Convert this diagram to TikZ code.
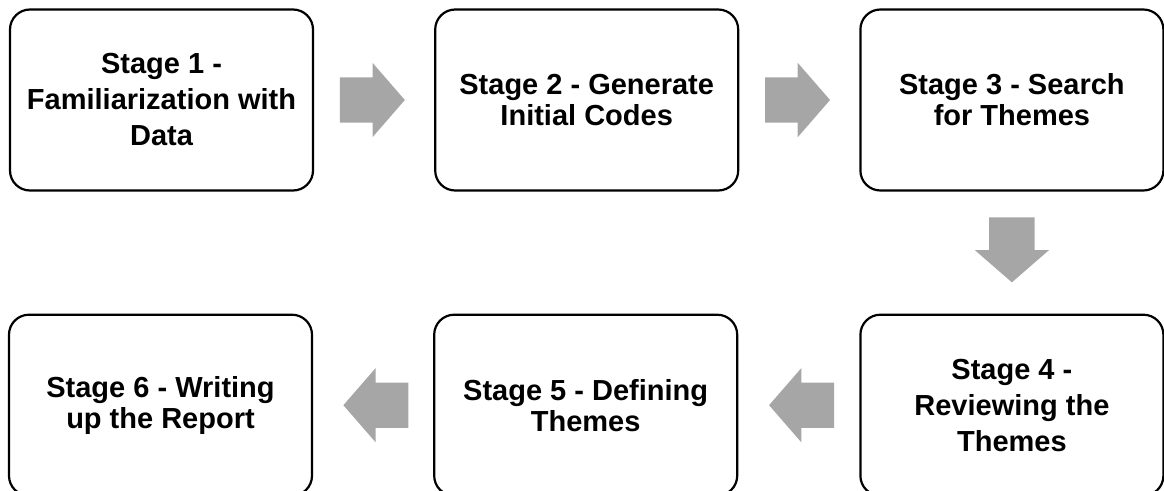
\documentclass[tikz,border=0pt]{standalone}
\usepackage{fontspec}
\setmainfont{Liberation Sans}
\usetikzlibrary{shapes.arrows,positioning,calc}

\definecolor{arrowgray}{RGB}{166,166,166}

\tikzset{
  stagebox/.style={draw, line width=2.2pt, rounded corners=20pt,
    minimum width=303pt, minimum height=181pt, inner sep=0pt,
    align=center, font=\fontsize{29}{31}\selectfont\bfseries},
  tallbox/.style={stagebox, font=\fontsize{29}{36}\selectfont\bfseries},
  fatarrow/.style={single arrow, fill=arrowgray, draw=none, anchor=tip,
    minimum height=65pt, inner xsep=0pt, inner ysep=22.5pt,
    single arrow head extend=14.5pt, single arrow tip angle=98}
}

\begin{document}
\begin{tikzpicture}[x=1pt,y=-1pt]

\useasboundingbox (0,0) rectangle (1164,490);

% top row
\node[tallbox] (s1) at (161.5,100) {Stage 1 -\\Familiarization with\\Data};
\node[stagebox, right=120pt of s1] (s2) {Stage 2 - Generate\\Initial Codes};
\node[stagebox, right=120pt of s2] (s3) {Stage 3 - Search\\for Themes};

% bottom row
\node[tallbox, below=122pt of s3] (s4) {Stage 4 -\\Reviewing the\\Themes};
\node[stagebox, left=121pt of s4] (s5) {Stage 5 - Defining\\Themes};
\node[stagebox, left=120pt of s5] (s6) {Stage 6 - Writing\\up the Report};

% gray arrows between stages (placed by their tips)
\node[fatarrow] (a12) at ($(s1.east)!0.5!(s2.west)+(31,0)$) {};
\node[fatarrow] (a23) at ($(s2.east)!0.5!(s3.west)+(31,0)$) {};
\node[fatarrow, rotate=-90] (a34) at ($(s3.south)!0.5!(s4.north)+(0,30)$) {};
\node[fatarrow, rotate=180] (a45) at ($(s4.west)!0.5!(s5.east)+(-30,0)$) {};
\node[fatarrow, rotate=180] (a56) at ($(s5.west)!0.5!(s6.east)+(-30,0)$) {};

\end{tikzpicture}
\end{document}
